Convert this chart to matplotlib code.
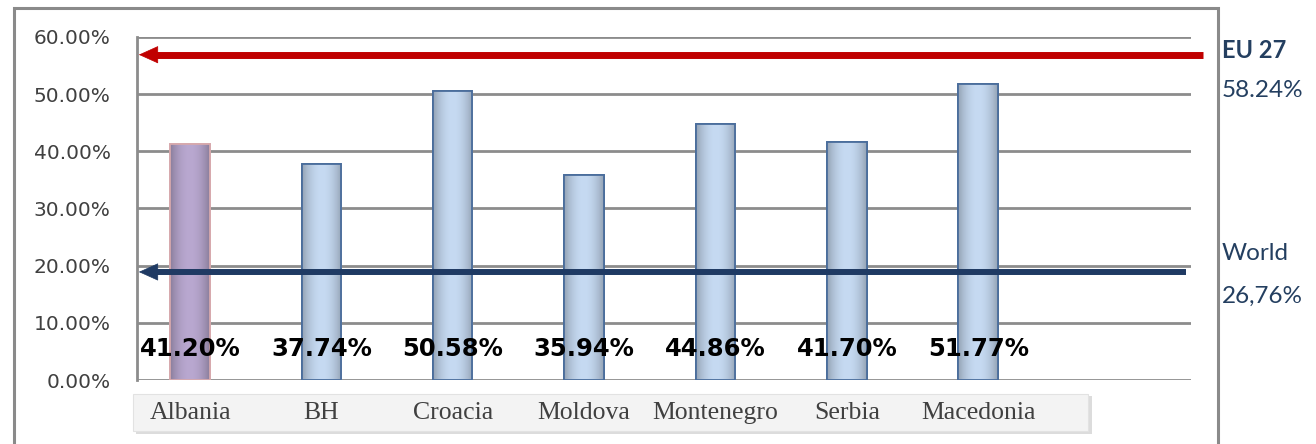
import matplotlib.pyplot as plt
from matplotlib.patches import Rectangle
import numpy as np

# data
countries = ["Albania", "BH", "Croacia", "Moldova", "Montenegro", "Serbia", "Macedonia"]
values = [41.20, 37.74, 50.58, 35.94, 44.86, 41.70, 51.77]
value_labels = ["41.20%", "37.74%", "50.58%", "35.94%", "44.86%", "41.70%", "51.77%"]
eu_level = 56.9
world_level = 18.9
eu_text = ["EU 27", "58.24%"]
world_text = ["World", "26,76%"]
yticks = [0, 10, 20, 30, 40, 50, 60]

W, H = 1316, 444
fig = plt.figure(figsize=(W / 100, H / 100), dpi=100)
fig.patch.set_facecolor("white")

# outer frame of the picture
fig.patches.append(Rectangle((14 / W, -0.02), (1218 - 14) / W, 1 - 8 / H + 0.02,
                             transform=fig.transFigure, fill=False,
                             edgecolor="#8a8a8a", lw=2.2, zorder=-2))
# box behind category labels
fig.patches.append(Rectangle((136 / W, 1 - 434 / H), (1092 - 136) / W, 38 / H,
                             transform=fig.transFigure, facecolor="#dcdcdc",
                             edgecolor="none", zorder=-2))
fig.patches.append(Rectangle((133 / W, 1 - 431 / H), (1088 - 133) / W, 37 / H,
                             transform=fig.transFigure, facecolor="#f3f3f3",
                             edgecolor="#e2e2e2", lw=0.8, zorder=-1))

ax = fig.add_axes([137 / W, 1 - 380 / H, 1054 / W, 343 / H])
ax.set_facecolor("none")

x = np.arange(len(countries))
ax.set_xlim(-0.404, 7.62)
ax.set_ylim(0, 60)

# grid
for yv in yticks:
    ax.axhline(yv, color="#8c8c8c", lw=2.0, zorder=1)
for s in ["top", "right", "bottom"]:
    ax.spines[s].set_visible(False)
ax.spines["left"].set_color("#8c8c8c")
ax.spines["left"].set_linewidth(2.0)

# bars with a soft gradient
bw = 0.30
fills = ["#b9a8d0"] + ["#c6daf2"] * (len(countries) - 1)
edges = ["#d7a9ad"] + ["#4a6d9c"] * (len(countries) - 1)
bars = ax.bar(x, values, width=bw, color=fills, edgecolor=edges, lw=1.3, zorder=2)
grad = np.linspace(0, 1, 50)
shade = 1 - 0.25 * (2 * np.abs(grad - 0.5)) ** 2
for b, c in zip(bars, fills):
    rgb = np.array(plt.matplotlib.colors.to_rgb(c))
    img = (shade[None, :, None] * rgb[None, None, :]).clip(0, 1)
    im = ax.imshow(img, extent=(b.get_x(), b.get_x() + b.get_width(), 0, b.get_height()),
                   aspect="auto", zorder=2.1, interpolation="bilinear")
    im.set_clip_path(b)
    ax.bar(b.get_x() + b.get_width() / 2, b.get_height(), width=b.get_width(),
           fill=False, edgecolor=b.get_edgecolor(), lw=1.3, zorder=2.2)

# value labels
for xi, lab in zip(x, value_labels):
    ax.text(xi, 5.4, lab, ha="center", va="center", fontsize=17.5,
            fontweight="bold", color="black", zorder=5)


# reference arrows: shaft as a plain line, head as a separate filled arrow
def ref_arrow(level, tail, color, lw):
    tip = -0.39
    ax.plot([tip + 0.1, tail], [level, level], color=color, lw=lw,
            solid_capstyle="butt", zorder=4, clip_on=False)
    ax.annotate("", xy=(tip, level), xytext=(tip + 0.2, level),
                arrowprops=dict(arrowstyle="-|>,head_length=1.0,head_width=0.45",
                                color=color, lw=0.5, mutation_scale=13,
                                shrinkA=0, shrinkB=0),
                annotation_clip=False, zorder=4)


ref_arrow(eu_level, 7.71, "#c00000", 5)
ref_arrow(world_level, 7.58, "#1f3a63", 4.3)

# right side notes
navy = "#243f60"
fig.text(1222 / W, 1 - 50 / H, eu_text[0], fontsize=17, fontweight="bold",
         color=navy, family="Lato", va="center")
fig.text(1222 / W, 1 - 90 / H, eu_text[1], fontsize=17.5, color=navy,
         family="Lato", va="center")
fig.text(1222 / W, 1 - 253 / H, world_text[0], fontsize=17.5, color=navy,
         family="Lato", va="center")
fig.text(1222 / W, 1 - 296 / H, world_text[1], fontsize=17.5, color=navy,
         family="Lato", va="center")

# ticks
ax.set_yticks(yticks)
ax.set_yticklabels(["%.2f%%" % v for v in yticks], fontsize=14.5, color="#404040")
ax.tick_params(axis="y", length=0, pad=19)
ax.set_xticks(x)
ax.set_xticklabels(countries, family="Liberation Serif", fontsize=18.5, color="#404040")
ax.tick_params(axis="x", length=0, pad=16)

fig.savefig("out.png", dpi=100)
